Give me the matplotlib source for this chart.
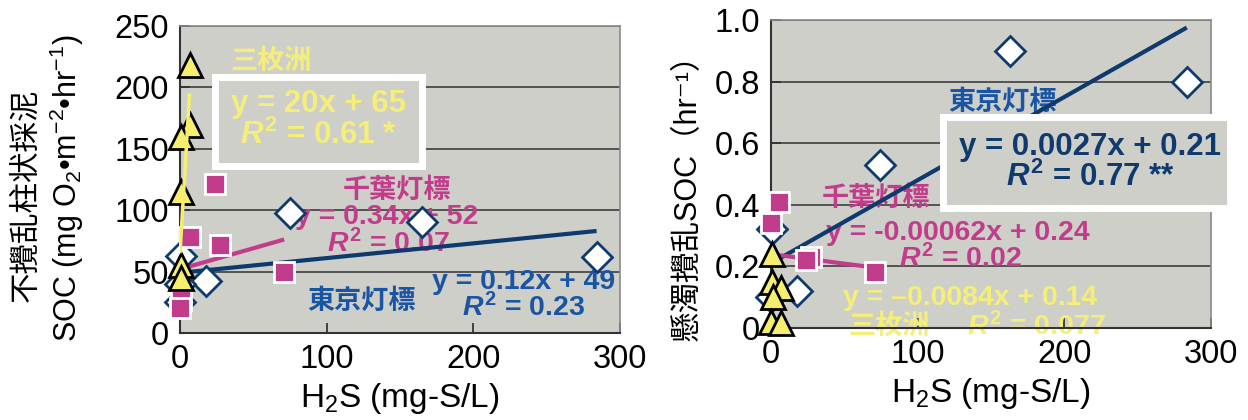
import numpy as np
import matplotlib
matplotlib.use("Agg")
import matplotlib.pyplot as plt
from matplotlib.patches import Rectangle

plt.rcParams['font.family'] = ['Liberation Sans', 'Noto Sans CJK JP', 'DejaVu Sans']
plt.rcParams['mathtext.fontset'] = 'custom'
plt.rcParams['mathtext.rm'] = 'Liberation Sans'
plt.rcParams['mathtext.it'] = 'Liberation Sans:italic:bold'
plt.rcParams['mathtext.bf'] = 'Liberation Sans:bold'

# ---- data: left panel (undisturbed core SOC, mg O2/m2/hr) ----
tokyo_x1 = [75, 165, 284, 18, 1, 0, 0]
tokyo_y1 = [98, 90, 62, 42, 63, 40, 25]
chiba_x1 = [24, 7, 27, 71, 1, 0]
chiba_y1 = [121, 78, 72, 50, 27, 20]
sanmai_x1 = [7, 7, 1, 1, 1, 1]
sanmai_y1 = [218, 169, 160, 115, 55, 45]
tokyo_fit1 = (0.12, 49, 284)
chiba_fit1 = (0.34, 52, 71)
sanmai_fit1 = (20, 65, 6.5)

# ---- data: right panel (suspended SOC, 1/hr) ----
tokyo_x2 = [163, 283.5, 74, 17.5, 0.5, 0]
tokyo_y2 = [0.90, 0.80, 0.53, 0.12, 0.32, 0.10]
chiba_x2 = [5.7, 0, 27, 24, 71]
chiba_y2 = [0.41, 0.34, 0.23, 0.22, 0.183]
sanmai_x2 = [0.5, 0.5, 7, 1.5, 0, 7]
sanmai_y2 = [0.24, 0.15, 0.13, 0.10, 0.02, 0.015]
tokyo_fit2 = (0.0027, 0.21, 283.5)
chiba_fit2 = (-0.00062, 0.24, 71)
sanmai_fit2 = (-0.0084, 0.14, 7)

xticks = [0, 100, 200, 300]
yticks1 = [0, 50, 100, 150, 200, 250]
yticks2 = [0, 0.2, 0.4, 0.6, 0.8, 1.0]
yticklabels2 = ['0', '0.2', '0.4', '0.6', '0.8', '1.0']

BG = '#cfcfca'
NAVY = '#0f3a6e'
BLUE = '#1a55a3'
MAG = '#c13d8c'
YEL = '#f6ee6e'
YTXT = '#f4ee7a'

fig = plt.figure(figsize=(12.48, 4.2), dpi=100)
ax1 = fig.add_axes([180/1248, 1-333/420, 440/1248, 307/420])
ax2 = fig.add_axes([771/1248, 1-328/420, 440/1248, 308/420])


def style(ax, yt, ylab=None):
    ax.set_facecolor(BG)
    ax.set_xlim(0, 300)
    ax.set_xticks(xticks)
    ax.set_ylim(yt[0], yt[-1])
    ax.set_yticks(yt)
    if ylab is not None:
        ax.set_yticklabels(ylab)
    ax.grid(axis='y', color='#4a4a4a', lw=1.3, zorder=0)
    ax.set_axisbelow(True)
    ax.tick_params(direction='in', length=7, width=1.3, labelsize=23.5, pad=8, color='#333333')
    for s in ['left', 'bottom']:
        ax.spines[s].set_color('#333333')
        ax.spines[s].set_linewidth(1.5)
    for s in ['top', 'right']:
        ax.spines[s].set_color('#8a8a8a')
        ax.spines[s].set_linewidth(1.2)
    ax.set_xlabel('H$_2$S (mg-S/L)', fontsize=24, labelpad=4)


def fitline(ax, fit, color, lw, z=3):
    a, b, xmax = fit
    xs = np.array([0, xmax])
    ax.plot(xs, a * xs + b, color=color, lw=lw, zorder=z, solid_capstyle='butt')


def points(ax, tx, ty, cx, cy, sx, sy):
    ax.plot(tx, ty, 'D', ms=15, mfc='white', mec=NAVY, mew=2, ls='none', zorder=4, clip_on=False)
    ax.plot(cx, cy, 's', ms=14, mfc=MAG, mec='white', mew=2, ls='none', zorder=5, clip_on=False)
    ax.plot(sx, sy, '^', ms=17, mfc=YEL, mec='black', mew=2, ls='none', zorder=6, clip_on=False)


style(ax1, yticks1)
style(ax2, yticks2, yticklabels2)

# left panel
fitline(ax1, tokyo_fit1, NAVY, 3)
fitline(ax1, chiba_fit1, MAG, 3)
points(ax1, tokyo_x1, tokyo_y1, chiba_x1, chiba_y1, sanmai_x1, sanmai_y1)
fitline(ax1, sanmai_fit1, YEL, 2.5, z=7)

tb = dict(fontweight='bold', ha='center', va='center', zorder=2)
ax1.add_patch(Rectangle((24, 136), 141, 72.5, facecolor=BG, edgecolor='white', lw=5, zorder=3))
ax1.text(62, 220.5, '三枚洲', color=YTXT, fontsize=19.5, **tb)
ax1.text(94.5, 186.5, 'y = 20x + 65', color=YTXT, fontsize=22.5, **{**tb, 'zorder': 4})
ax1.text(94.5, 161, r'$\mathit{R}^{\mathbf{2}}$ = 0.61 *', color=YTXT, fontsize=22.5, **{**tb, 'zorder': 4})
ax1.text(148, 116, '千葉灯標', color=MAG, fontsize=19.5, **tb)
ax1.text(141, 94.5, 'y = 0.34x + 52', color=MAG, fontsize=20.5, **tb)
ax1.text(142, 73, r'$\mathit{R}^{\mathbf{2}}$ = 0.07', color=MAG, fontsize=20.5, **tb)
ax1.text(124, 25, '東京灯標', color=BLUE, fontsize=19.5, **tb)
ax1.text(234, 41.5, 'y = 0.12x + 49', color=BLUE, fontsize=20.5, **tb)
ax1.text(234.5, 20.5, r'$\mathit{R}^{\mathbf{2}}$ = 0.23', color=BLUE, fontsize=20.5, **tb)

fig.text(26/1248, 1-195/420, '不攪乱柱状採泥', rotation=90, fontsize=22, ha='center', va='center')
fig.text(67/1248, 1-188/420, 'SOC (mg O$_2$•m$^{\\mathrm{-}2}$•hr$^{\\mathrm{-}1}$)', rotation=90, fontsize=22,
         ha='center', va='center')

# right panel
fitline(ax2, tokyo_fit2, NAVY, 3)
fitline(ax2, chiba_fit2, MAG, 3)
fitline(ax2, sanmai_fit2, YEL, 2.5)
points(ax2, tokyo_x2, tokyo_y2, chiba_x2, chiba_y2, sanmai_x2, sanmai_y2)

ax2.add_patch(Rectangle((117, 0.39), 196, 0.295, facecolor=BG, edgecolor='white', lw=5,
                        zorder=3.5, clip_on=False))
ax2.text(157.5, 0.73, '東京灯標', color=BLUE, fontsize=19.5, **tb)
ax2.text(217.5, 0.588, 'y = 0.0027x + 0.21', color=NAVY, fontsize=22.5, **{**tb, 'zorder': 4})
ax2.text(218, 0.49, r'$\mathit{R}^{\mathbf{2}}$ = 0.77 **', color=NAVY, fontsize=22.5, **{**tb, 'zorder': 4})
ax2.text(71.5, 0.42, '千葉灯標', color=MAG, fontsize=19.5, **tb)
ax2.text(127.5, 0.31, 'y = -0.00062x + 0.24', color=MAG, fontsize=20.5, **tb)
ax2.text(129, 0.224, r'$\mathit{R}^{\mathbf{2}}$ = 0.02', color=MAG, fontsize=20.5, **tb)
ax2.text(135.5, 0.097, 'y = –0.0084x + 0.14', color=YTXT, fontsize=20.5, **tb)
ax2.text(80.5, 0.003, '三枚洲', color=YTXT, fontsize=19.5, **tb)
ax2.text(181, 0.003, r'$\mathit{R}^{\mathbf{2}}$ = 0.077', color=YTXT, fontsize=20.5, **tb)

fig.text(688/1248, 1-190/420, '懸濁攪乱SOC（hr⁻¹）', rotation=90, fontsize=22, ha='center', va='center')

fig.savefig('out.png', dpi=100)
